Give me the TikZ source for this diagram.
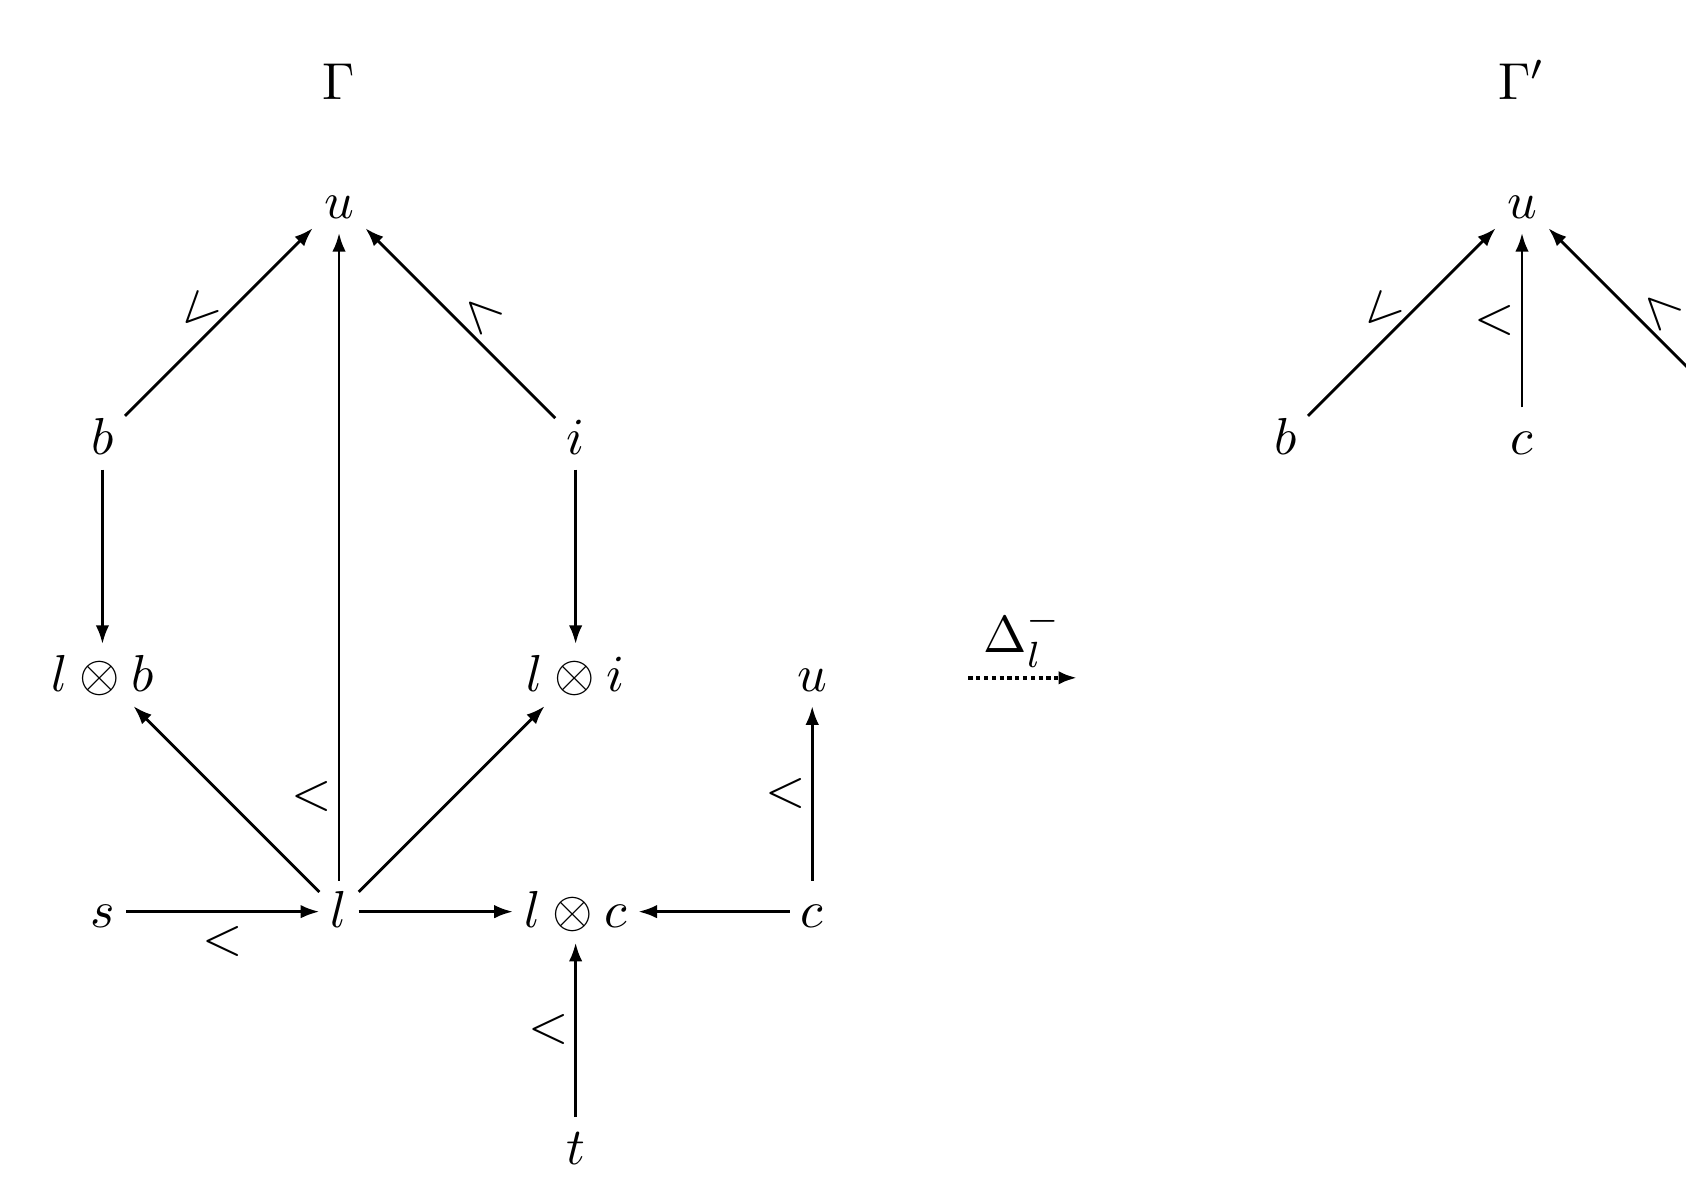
\documentclass[tikz,border=0pt]{standalone}
\usetikzlibrary{arrows.meta}
\begin{document}
\begin{tikzpicture}[x=1.6cm, y=1.6cm,
    obj/.style={anchor=base, inner sep=2pt, text height=1.6ex, text depth=0.15ex},
    arr/.style={-{Latex[length=3.6pt,width=2.6pt]}, line width=0.55pt},
    lab/.style={inner sep=1pt}]
  \useasboundingbox (-1.433,-1.082) rectangle (5.693,3.922);

  % Left graph
  \node[anchor=base] (gl) at (0,3.5) {$\Gamma$};
  \node[obj] (u) at (0,3) {$u$};
  \node[obj] (b) at (-1,2) {$b$};
  \node[obj] (i) at (1,2) {$i$};
  \node[obj] (lb) at (-1,1) {$l \otimes b$};
  \node[obj] (li) at (1,1) {$l \otimes i$};
  \node[obj] (u1) at (2,1) {$u$};
  \node[obj] (s) at (-1,0) {$s$};
  \node[obj] (l) at (0,0) {$l$};
  \node[obj] (lc) at (1,0) {$l \otimes c$};
  \node[obj] (c) at (2,0) {$c$};
  \node[obj] (t) at (1,-1) {$t$};

  % Right graph
  \node[anchor=base] (gr) at (5,3.5) {$\Gamma'$};
  \node[obj] (u2) at (5,3) {$u$};
  \node[obj] (b2) at (4,2) {$b$};
  \node[obj] (c2) at (5,2) {$c$};
  \coordinate (i2) at ([yshift=3.1pt]6,2);

  % Arrows
  \draw[arr] (b) -- node[lab, above, sloped, pos=0.47] {$<$} (u);
  \draw[arr] (i) -- node[lab, above, sloped, pos=0.47] {$<$} (u);
  \draw[arr] (l) -- node[lab, left, pos=0.13] {$<$} (u);
  \draw[arr] (b) -- (lb);
  \draw[arr] (i) -- (li);
  \draw[arr] (l) -- (lb);
  \draw[arr] (l) -- (li);
  \draw[arr] (s) -- node[lab, below=1.5pt] {$<$} (l);
  \draw[arr] (l) -- (lc);
  \draw[arr] (c) -- (lc);
  \draw[arr] (c) -- node[lab, left] {$<$} (u1);
  \draw[arr] (t) -- node[lab, left] {$<$} (lc);

  \draw[arr] (b2) -- node[lab, above, sloped, pos=0.47] {$<$} (u2);
  \draw[arr] (c2) -- node[lab, left] {$<$} (u2);
  \draw[arr] (i2) -- node[lab, above, sloped, pos=0.54] {$<$} (u2);

  % Rewrite step
  \coordinate (d1) at (2.66,1.057);
  \coordinate (d2) at (3.12,1.057);
  \draw[arr, line width=0.8pt, dash pattern=on 0.8pt off 0.7pt] (d1) -- node[above, inner sep=1.5pt] (dl) {$\Delta_l^-$} (d2);
\end{tikzpicture}
\end{document}
